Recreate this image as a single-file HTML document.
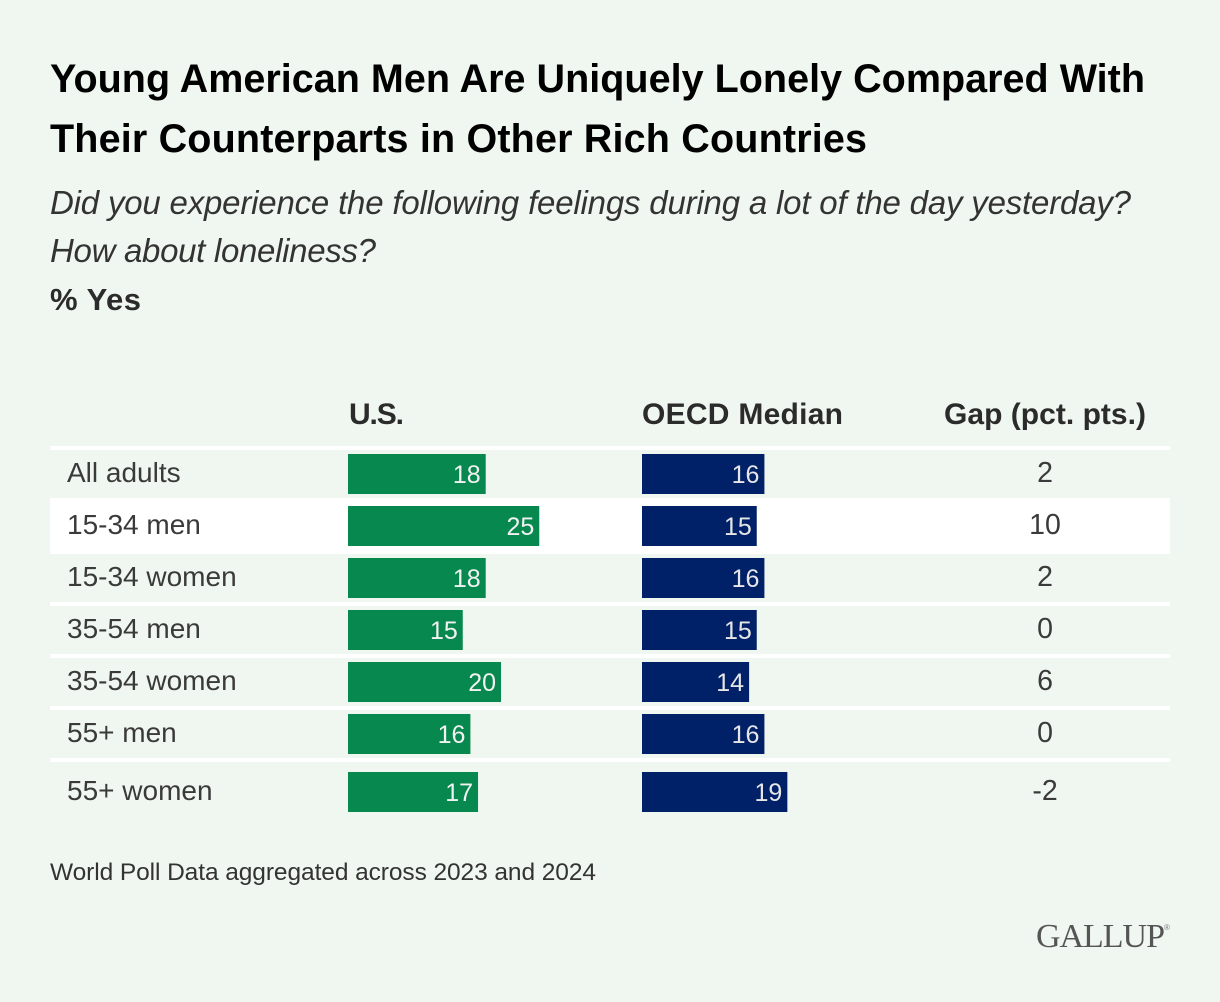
<!DOCTYPE html>
<html lang="en">
<head>
<meta charset="utf-8">
<title>Young American Men Are Uniquely Lonely</title>
<style>
html,body{margin:0;padding:0;background:#f0f7f0;}
svg{display:block;font-family:"Liberation Sans",sans-serif;}
</style>
</head>
<body>
<svg id="chart" width="1220" height="1002" viewBox="0 0 1220 1002" xmlns="http://www.w3.org/2000/svg">
  <rect x="0" y="0" width="1220" height="1002" fill="#f0f7f0"/>
  <text x="50" y="92" font-size="39.5" font-weight="700" fill="#000" textLength="1095" lengthAdjust="spacing">Young American Men Are Uniquely Lonely Compared With</text>
  <text x="50" y="152" font-size="39.5" font-weight="700" fill="#000" textLength="817" lengthAdjust="spacing">Their Counterparts in Other Rich Countries</text>
  <text x="50" y="214" font-size="33" font-style="italic" fill="#333" textLength="1081" lengthAdjust="spacing">Did you experience the following feelings during a lot of the day yesterday?</text>
  <text x="50" y="262" font-size="33" font-style="italic" fill="#333" textLength="326" lengthAdjust="spacing">How about loneliness?</text>
  <text x="50" y="310" font-size="31" font-weight="700" fill="#2b2b2b" textLength="91" lengthAdjust="spacing">% Yes</text>
  <text x="349" y="424" font-size="30" font-weight="700" fill="#2b2b2b" textLength="55" lengthAdjust="spacing">U.S.</text>
  <text x="642" y="424" font-size="30" font-weight="700" fill="#2b2b2b" textLength="201" lengthAdjust="spacing">OECD Median</text>
  <text x="944" y="424" font-size="30" font-weight="700" fill="#2b2b2b" textLength="202" lengthAdjust="spacing">Gap (pct. pts.)</text>
  <g id="rows"></g>
  <text x="50" y="880" font-size="24.5" fill="#333" textLength="546" lengthAdjust="spacing">World Poll Data aggregated across 2023 and 2024</text>
  <text x="1036" y="947" font-size="34" fill="#555" style="font-family:'Liberation Serif',serif" textLength="129" lengthAdjust="spacing">GALLUP</text>
  <text x="1164" y="930" font-size="8" fill="#777">®</text>
</svg>
<script>
var categories = ["All adults", "15-34 men", "15-34 women", "35-54 men", "35-54 women", "55+ men", "55+ women"];
var usValues = [18, 25, 18, 15, 20, 16, 17];
var oecdValues = [16, 15, 16, 15, 14, 16, 19];
var gapValues = [2, 10, 2, 0, 6, 0, -2];

var NS = "http://www.w3.org/2000/svg";
var rowsGroup = document.getElementById("rows");
var PX_PER_POINT = 7.65;
var US_LEFT = 348;
var OECD_LEFT = 642;
var GAP_CENTER = 1045;
var LABEL_X = 67;

function xLength(value) { return value * PX_PER_POINT; }
function rowTop(index) { return index < 6 ? 454 + index * 52 : 454 + 5 * 52 + 58; }

function make(tag, attrs, text) {
  var el = document.createElementNS(NS, tag);
  for (var key in attrs) { el.setAttribute(key, attrs[key]); }
  if (text !== undefined) { el.textContent = text; }
  rowsGroup.appendChild(el);
  return el;
}

var topRule = make("rect", { x: 50, y: 446, width: 1120, height: 4, fill: "#fff" });



categories.forEach(function (category, i) {
  var top = rowTop(i);
  var center = top + 20;

  if (i === 1) {
    var band = make("rect", { x: 50, y: top - 8, width: 1120, height: 56, fill: "#fff" });
    
    
  } else if (i > 2) {
    var rule = make("rect", { x: 50, y: rowTop(i - 1) + 44, width: 1120, height: 4, fill: "#fff" });
    
    
  }

  var label = make("text", { x: LABEL_X, y: center + 8, "font-size": 28, fill: "#3a3a3a" }, category);
  
  

  var usW = xLength(usValues[i]);
  var usBar = make("rect", { x: US_LEFT, y: top, width: usW, height: 40, fill: "#06884e" });
  
  
  var usText = make("text", { x: US_LEFT + usW - 5, y: center + 9, "font-size": 25, fill: "#f2f2f2", "text-anchor": "end" }, usValues[i]);
  
  

  var oecdW = xLength(oecdValues[i]);
  var oecdBar = make("rect", { x: OECD_LEFT, y: top, width: oecdW, height: 40, fill: "#002068" });
  
  
  var oecdText = make("text", { x: OECD_LEFT + oecdW - 5, y: center + 9, "font-size": 25, fill: "#e6e6e6", "text-anchor": "end" }, oecdValues[i]);
  
  

  var gap = make("text", { x: GAP_CENTER, y: center + 8, "font-size": 28.5, fill: "#3a3a3a", "text-anchor": "middle" }, gapValues[i]);
  
  
});
</script>
</body>
</html>
